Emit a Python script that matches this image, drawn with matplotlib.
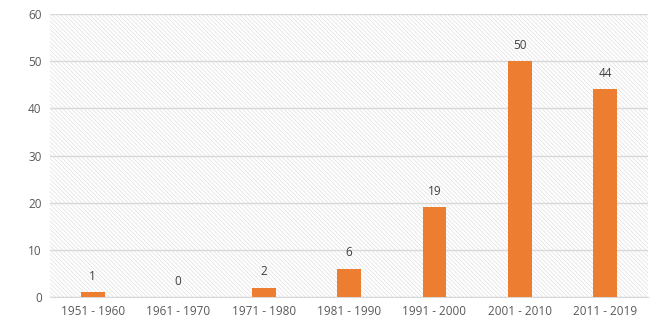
import matplotlib
matplotlib.use("Agg")
import matplotlib.pyplot as plt

# Data
decades = ['1951 - 1960', '1961 - 1970', '1971 - 1980', '1981 - 1990',
           '1991 - 2000', '2001 - 2010', '2011 - 2019']
counts = [1, 0, 2, 6, 19, 50, 44]
y_ticks = [0, 10, 20, 30, 40, 50, 60]

plt.rcParams['font.family'] = ['Open Sans', 'DejaVu Sans']
plt.rcParams['hatch.color'] = '#e0e0e0'
plt.rcParams['hatch.linewidth'] = 0.5

fig = plt.figure(figsize=(6.72, 3.31), dpi=100)
ax = fig.add_axes([0.0744, 0.1027, 0.890, 0.855])

# hatched background
ax.patch.set_facecolor('white')
ax.patch.set_hatch('\\' * 8)
ax.patch.set_edgecolor('#e0e0e0')
ax.patch.set_linewidth(0)

x = range(len(decades))
bars = ax.bar(x, counts, width=0.28, color='#ED7D31', zorder=3)

for xi, v in zip(x, counts):
    ax.text(xi, v + 2, str(v), ha='center', va='bottom', fontsize=8.5, color='#404040')

ax.set_ylim(0, 60)
ax.set_xlim(-0.5, len(decades) - 0.5)
ax.set_yticks(y_ticks)
ax.set_xticks(list(x))
ax.set_xticklabels(decades)
ax.grid(axis='y', color='#d9d9d9', linewidth=1, zorder=1)
ax.set_axisbelow(True)

for s in ['top', 'right', 'left']:
    ax.spines[s].set_visible(False)
ax.spines['bottom'].set_color('#d9d9d9')
ax.tick_params(length=0, labelsize=8.5, colors='#595959', pad=6)
ax.tick_params(axis='y', pad=6)

fig.savefig('out.png', dpi=100)
